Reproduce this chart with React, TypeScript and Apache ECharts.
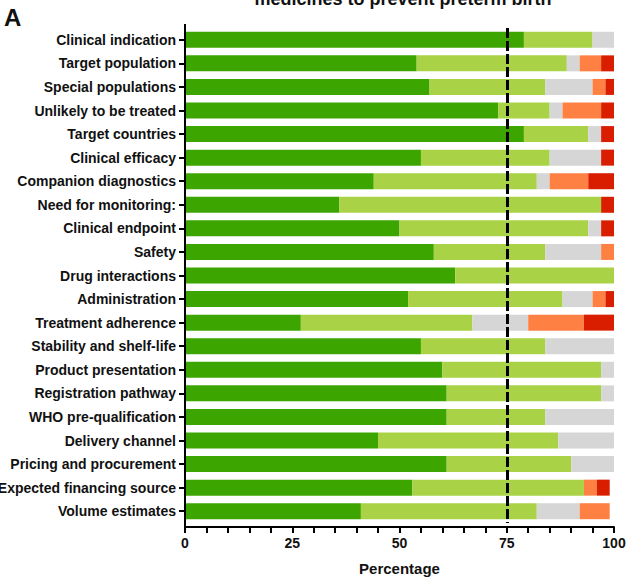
import React, { useEffect, useRef } from "react";
import * as echarts from "echarts";

const categories = [
  "Clinical indication",
  "Target population",
  "Special populations",
  "Unlikely to be treated",
  "Target countries",
  "Clinical efficacy",
  "Companion diagnostics",
  "Need for monitoring:",
  "Clinical endpoint",
  "Safety",
  "Drug interactions",
  "Administration",
  "Treatment adherence",
  "Stability and shelf-life",
  "Product presentation",
  "Registration pathway",
  "WHO pre-qualification",
  "Delivery channel",
  "Pricing and procurement",
  "Expected financing source",
  "Volume estimates",
];

const stronglyAgree = [79, 54, 57, 73, 79, 55, 44, 36, 50, 58, 63, 52, 27, 55, 60, 61, 61, 45, 61, 53, 41];
const agree = [16, 35, 27, 12, 15, 30, 38, 61, 44, 26, 37, 36, 40, 29, 37, 36, 23, 42, 29, 40, 41];
const neutral = [5, 3, 11, 3, 3, 12, 3, 0, 3, 13, 0, 7, 13, 16, 3, 3, 16, 13, 10, 0, 10];
const disagree = [0, 5, 3, 9, 0, 0, 9, 0, 0, 3, 0, 3, 13, 0, 0, 0, 0, 0, 0, 3, 7];
const stronglyDisagree = [0, 3, 2, 3, 3, 3, 6, 3, 3, 0, 0, 2, 7, 0, 0, 0, 0, 0, 0, 3, 0];

const xTickLabels = ["0", "25", "50", "75", "100"];
const thresholdLine = 75;

const FONT = "'Liberation Sans', Arial, Helvetica, sans-serif";

export default function App() {
  const ref = useRef<HTMLDivElement>(null);

  useEffect(() => {
    if (!ref.current) return;
    const chart = echarts.init(ref.current, undefined, { renderer: "svg" });

    const mk = (name: string, data: number[], color: string, extra: any = {}) => ({
      name,
      type: "bar",
      stack: "total",
      data,
      barWidth: 16,
      itemStyle: { color },
      emphasis: { disabled: true },
      ...extra,
    });

    const gridLeft = 185;
    const gridTop = 28;
    const gridHeight = 495;

    chart.setOption({
      animation: false,
      textStyle: { fontFamily: FONT },
      grid: {
        left: gridLeft,
        right: 12,
        top: gridTop,
        height: gridHeight,
        containLabel: false,
        outerBoundsMode: "none",
      },
      xAxis: {
        type: "value",
        min: 0,
        max: 100,
        interval: 5,
        offset: 4,
        name: "Percentage",
        nameLocation: "middle",
        nameGap: 34,
        nameTextStyle: { fontFamily: FONT, fontWeight: "bold", fontSize: 15, color: "#111" },
        axisLine: { show: true, lineStyle: { color: "#000", width: 2 } },
        axisTick: { show: true, length: 6, lineStyle: { color: "#000", width: 2 } },
        axisLabel: {
          margin: 9,
          fontFamily: FONT,
          fontWeight: "bold",
          fontSize: 14,
          color: "#111",
          formatter: (v: number) => {
            const s = String(v);
            return xTickLabels.indexOf(s) >= 0 ? s : "";
          },
        },
        splitLine: { show: false },
      },
      yAxis: {
        type: "category",
        inverse: true,
        data: categories,
        axisLine: { show: false },
        axisTick: { show: true, alignWithLabel: true, length: 6, lineStyle: { color: "#000", width: 2 } },
        axisLabel: {
          margin: 9,
          fontFamily: FONT,
          fontWeight: "bold",
          fontSize: 14,
          color: "#111",
        },
      },
      graphic: [
        {
          type: "line",
          shape: { x1: gridLeft, y1: 24, x2: gridLeft, y2: 528 },
          style: { stroke: "#000", lineWidth: 2 },
          z: 100,
        },
        {
          type: "text",
          left: 4,
          top: 5,
          style: { text: "A", font: `bold 24px ${FONT}`, fill: "#111" },
        },
        {
          type: "text",
          x: 403,
          y: 8,
          style: {
            text: "medicines to prevent preterm birth",
            font: `bold 18px ${FONT}`,
            fill: "#111",
            align: "center",
            verticalAlign: "bottom",
          },
        },
      ],
      series: [
        mk("Strongly agree", stronglyAgree, "#3da500"),
        mk("Agree", agree, "#a9d246"),
        mk("Neutral", neutral, "#d6d6d6"),
        mk("Disagree", disagree, "#ff8043"),
        mk("Strongly disagree", stronglyDisagree, "#d91e00", {
          markLine: {
            silent: true,
            symbol: "none",
            label: { show: false },
            lineStyle: { color: "#000", width: 3, type: [10, 3] },
            data: [{ xAxis: thresholdLine }],
            z: 10,
          },
        }),
      ],
    });

    return () => chart.dispose();
  }, []);

  return (
    <div
      ref={ref}
      style={{ position: "fixed", left: 0, top: 0, width: 626, height: 578, background: "#fff" }}
    />
  );
}
